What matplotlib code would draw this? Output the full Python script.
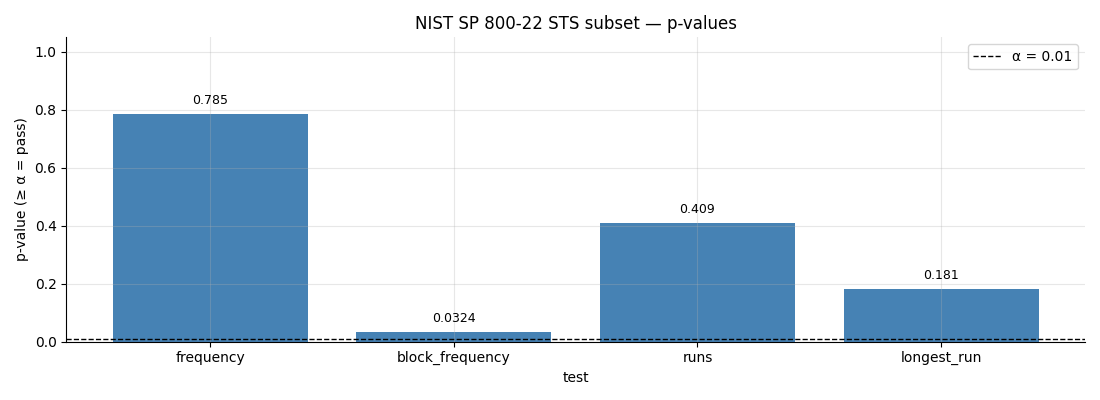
import matplotlib.pyplot as plt

# test names and p-values
tests = ['frequency', 'block_frequency', 'runs', 'longest_run']
p_values = [0.785, 0.0324, 0.409, 0.181]
labels = ['0.785', '0.0324', '0.409', '0.181']
alpha = 0.01

fig, ax = plt.subplots(figsize=(11, 4), dpi=100)
bars = ax.bar(tests, p_values, color='steelblue', width=0.8)
ax.bar_label(bars, labels=labels, padding=5, fontsize=9)
ax.axhline(alpha, color='black', linestyle='--', linewidth=1, label='α = 0.01')
ax.set_ylim(0, 1.05)
ax.grid(True, alpha=0.3)
ax.set_axisbelow(False)
ax.spines['top'].set_visible(False)
ax.spines['right'].set_visible(False)
ax.set_title('NIST SP 800-22 STS subset — p-values')
ax.set_xlabel('test')
ax.set_ylabel('p-value (≥ α = pass)')
ax.legend(loc='upper right')
plt.tight_layout()
plt.savefig('out.png')
